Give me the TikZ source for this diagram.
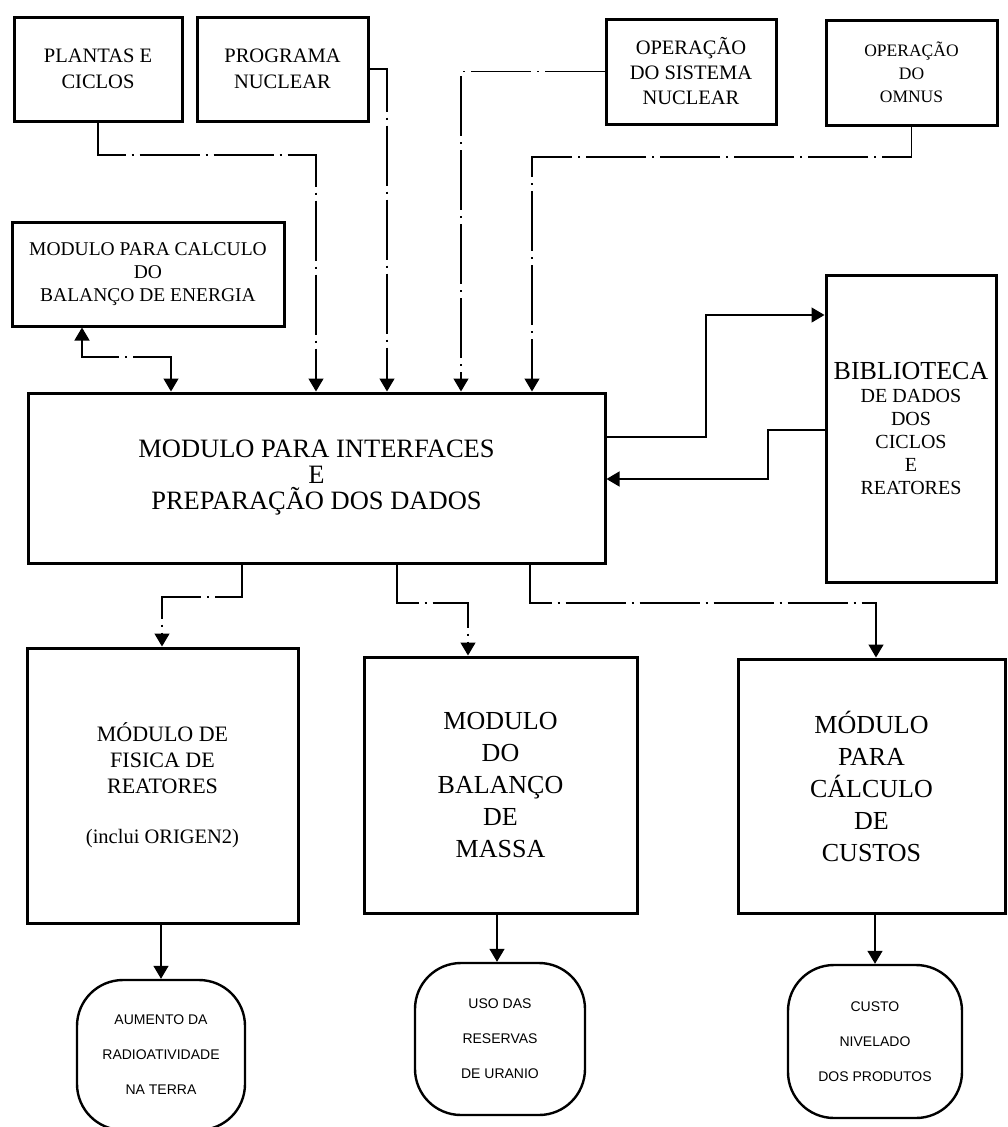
\documentclass[tikz,border=0pt]{standalone}
\usepackage{fontspec}
\setmainfont{Liberation Serif}
\newfontfamily\sansf{Liberation Sans}
\usetikzlibrary{arrows.meta}
\newcommand\fsz[2]{\fontsize{#1}{#2}\selectfont}
\tikzset{
  x=1pt, y=-1pt,
  box/.style={draw, line width=3pt, rectangle, inner sep=0pt, align=center},
  outbox/.style={draw, line width=2.4pt, rectangle, rounded corners=46pt, inner sep=0pt, align=center, font=\sansf\fsz{14}{35}},
  tip/.tip={Triangle[width=15pt,length=13pt]},
  conn/.style={line width=1.4pt, dash pattern=on 60pt off 6pt on 2pt off 6pt},
  connsolid/.style={line width=1.4pt},
}
\begin{document}
\begin{tikzpicture}
\useasboundingbox (0,0) rectangle (1007,1127);
% top row
\node[box, minimum width=168pt, minimum height=104pt, font=\fsz{20.5}{26}] (plantas) at (98,69) {PLANTAS E\\CICLOS};
\node[box, minimum width=171pt, minimum height=104pt, font=\fsz{20.5}{26}] (programa) at (282.5,69) {PROGRAMA\\NUCLEAR};
\node[box, minimum width=170pt, minimum height=105pt, font=\fsz{20.5}{25}] (opsis) at (691,71.5) {OPERAÇÃO\\DO SISTEMA\\NUCLEAR};
\node[box, minimum width=171pt, minimum height=105pt, font=\fsz{17.5}{23}] (omnus) at (911.5,72.5) {OPERAÇÃO\\DO\\OMNUS};
% middle
\node[box, minimum width=272pt, minimum height=104pt, font=\fsz{19.5}{23}] (energia) at (148,274) {MODULO PARA CALCULO\\DO\\BALANÇO DE ENERGIA};
\node[box, minimum width=577pt, minimum height=170pt, font=\fsz{26.5}{26}] (main) at (316.5,478) {MODULO PARA INTERFACES\\E\\PREPARAÇÃO DOS DADOS};
\node[box, minimum width=170pt, minimum height=307pt, font=\fsz{20}{23}] (biblio) at (911,428.5) {{\fsz{26}{23}BIBLIOTECA}\\DE DADOS\\DOS\\CICLOS\\E\\REATORES};
% lower modules
\node[box, minimum width=271pt, minimum height=275pt, font=\fsz{22}{26}] (fisica) at (162.5,785.5) {MÓDULO DE\\FISICA DE\\REATORES\\[24pt]{\fsz{20.5}{26}(inclui ORIGEN2)}};
\node[box, minimum width=273pt, minimum height=256pt, font=\fsz{26}{32}] (massa) at (500.5,785) {MODULO\\DO\\BALANÇO\\DE\\MASSA};
\node[box, minimum width=267pt, minimum height=254pt, font=\fsz{26}{32}] (custos) at (871.5,786) {MÓDULO\\PARA\\CÁLCULO\\DE\\CUSTOS};
% outputs
\node[outbox, minimum width=168pt, minimum height=150pt] (out1) at (161,1055) {AUMENTO DA\\RADIOATIVIDADE\\NA TERRA};
\node[outbox, minimum width=170pt, minimum height=152pt] (out2) at (500,1039) {USO DAS\\RESERVAS\\DE URANIO};
\node[outbox, minimum width=174pt, minimum height=153pt] (out3) at (875,1041.5) {CUSTO\\NIVELADO\\DOS PRODUTOS};
% connectors into main module
\draw[conn,-{tip}] (programa.east) -- (387,0 |- programa.east) -- (387,0 |- main.north);
\draw[conn,-{tip}] (opsis.west) -- (461,0 |- opsis.west) -- (461,0 |- main.north);
\draw[conn,-{tip}] (plantas.south) -- (plantas.south |- 0,155) -- (316,155) -- (316,0 |- main.north);
\draw[conn,-{tip}] (omnus.south) -- (omnus.south |- 0,157) -- (532,157) -- (532,0 |- main.north);
\draw[conn,{tip}-{tip}] (171,0 |- main.north) -- (171,357) -- (82,357) -- (82,0 |- energia.south);
% library exchange
\draw[connsolid,-{tip}] (main.east |- 0,437) -- (706,437) -- (706,315) -- (biblio.west |- 0,315);
\draw[connsolid,-{tip}] (biblio.west |- 0,430) -- (768,430) -- (768,479) -- (main.east |- 0,479);
% outputs of main module
\draw[conn,-{tip}] (242,0 |- main.south) -- (242,597) -- (162,597) -- (162,0 |- fisica.north);
\draw[conn,-{tip}] (397,0 |- main.south) -- (397,603) -- (468,603) -- (468,0 |- massa.north);
\draw[conn,-{tip}] (530,0 |- main.south) -- (530,603) -- (876,603) -- (876,0 |- custos.north);
% modules to results
\draw[conn,-{tip}] (161,0 |- fisica.south) -- (161,0 |- out1.north);
\draw[conn,-{tip}] (497,0 |- massa.south) -- (497,0 |- out2.north);
\draw[conn,-{tip}] (875,0 |- custos.south) -- (875,0 |- out3.north);
\end{tikzpicture}
\end{document}
